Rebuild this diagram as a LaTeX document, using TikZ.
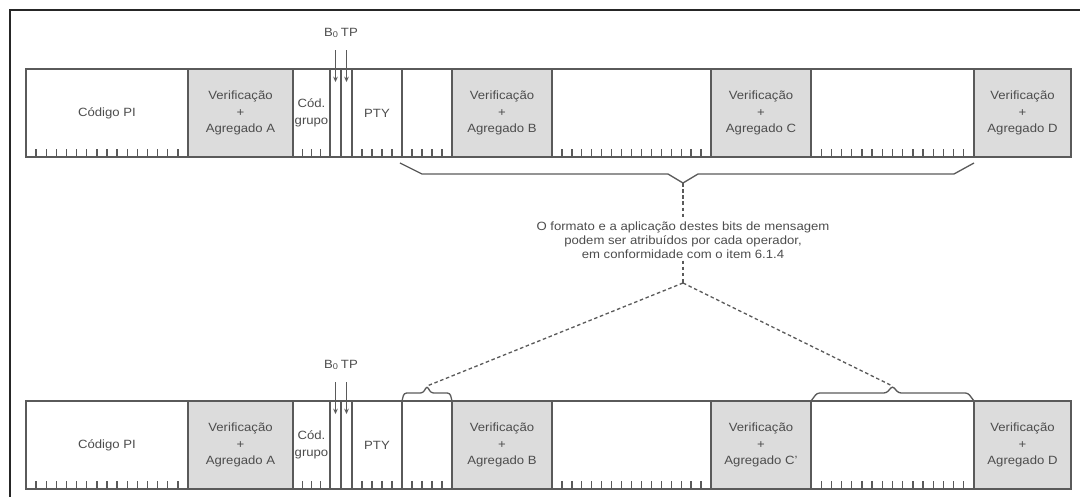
\documentclass[tikz,border=0pt]{standalone}
\usepackage{fontspec}
\setmainfont{Liberation Sans}[FakeStretch=1.1]
\usetikzlibrary{calc,arrows.meta}

\definecolor{linegray}{HTML}{5A5A5A}
\definecolor{boxgray}{HTML}{DCDCDC}
\definecolor{textgray}{HTML}{4D4D4D}

\tikzset{
  field/.style={draw=linegray, line width=0.75pt, inner sep=0pt, outer sep=0pt,
    minimum height=1.76cm, anchor=south west, align=center, text=textgray,
    font=\fontsize{6.8}{9.4}\selectfont},
  bittick/.style={draw=linegray, line width=0.75pt},
  brc/.style={draw=linegray, line width=0.75pt},
  lead/.style={draw=linegray, line width=0.75pt, dash pattern=on 2pt off 1.5pt},
  arr/.style={draw=linegray, line width=0.6pt, -{Stealth[length=3pt,width=2.6pt]}},
  note/.style={text=textgray, align=center, inner sep=1pt, font=\fontsize{6.8}{8}\selectfont},
}

% ticks on the bit boundaries of a field
\newcommand{\bitticks}[2]{%
  \pgfmathtruncatemacro\lastbit{#2-1}
  \foreach \i in {1,...,\lastbit}
    \draw[bittick] ($(#1.south west)!\i/#2!(#1.south east)$) -- ++(0,8);
}

% one group of blocks: #1 prefix, #2 bottom edge, #3 name of block C
\newcommand{\bitrow}[3]{%
  \foreach \nm/\xa/\xb/\fc/\lbl in {pi/26/188/white/{Código PI},
      va/188/293/boxgray/{Verificação\\+\\Agregado A},
      cg/293/330/white/{Cód.\\grupo}, b0/330/341/white/{}, tp/341/352/white/{},
      pty/352/402/white/{PTY}, m1/402/452/white/{},
      vb/452/552/boxgray/{Verificação\\+\\Agregado B}, m2/552/711/white/{},
      vc/711/811/boxgray/{Verificação\\+\\Agregado #3}, m3/811/974/white/{},
      vd/974/1071/boxgray/{Verificação\\+\\Agregado D}}
    \node[field, fill=\fc, minimum width={(\xb-\xa)*0.02cm}] (#1\nm) at (\xa,#2) {\lbl};
  \bitticks{#1pi}{16}
  \bitticks{#1cg}{4}
  \bitticks{#1pty}{5}
  \bitticks{#1m1}{5}
  \bitticks{#1m2}{16}
  \bitticks{#1m3}{16}
  \node[note] (#1bits) at ($(#1b0.north east)+(0,36)$) {B\textsubscript{0}\,TP};
  \draw[arr] ($(#1b0.north)+(0,19)$) -- ($(#1b0.north)+(0,-13)$);
  \draw[arr] ($(#1tp.north)+(0,19)$) -- ($(#1tp.north)+(0,-13)$);
}

\begin{document}
\begin{tikzpicture}[x=0.02cm, y=0.02cm]
\useasboundingbox (0,0) rectangle (1080,497);
\draw[black!85, line width=0.8pt] (10,0) -- (10,487) -- (1080,487);

\bitrow{t}{340}{C}
\bitrow{b}{8}{C'}

% brace below the upper group
\coordinate (tip) at ($(tm1.south west)!0.5!(tm3.south east)+(-5,-26)$);
\draw[brc] ($(tm1.south west)+(-2,-6)$) -- ($(tm1.south west)+(20,-17)$)
  -- ($(tip)+(-15,9)$) -- (tip) -- ($(tip)+(15,9)$)
  -- ($(tm3.south east)+(-20,-17)$) -- ($(tm3.south east)+(0,-6)$);

\node[note] (note) at ($(tip)+(0,-57)$) {O formato e a aplicação destes bits de mensagem\\podem ser atribuídos por cada operador,\\em conformidade com o item 6.1.4};
\coordinate (split) at ($(tip)+(0,-100)$);

% braces over the lower group
\coordinate (ltip) at ($(bm1.north)+(0,15)$);
\coordinate (rtip) at ($(bm3.north)+(0,15)$);
\draw[brc, rounded corners=1.5pt] (bm1.north west) -- ++(2,8) -- ($(ltip)+(-4,-7)$)
  -- (ltip) -- ($(ltip)+(4,-7)$) -- ($(bm1.north east)+(-2,8)$) -- (bm1.north east);
\draw[brc, rounded corners=1.5pt] (bm3.north west) -- ++(6,8) -- ($(rtip)+(-6,-7)$)
  -- (rtip) -- ($(rtip)+(6,-7)$) -- ($(bm3.north east)+(-6,8)$) -- (bm3.north east);

\draw[lead] (tip) -- (note);
\draw[lead] (note) -- (split);
\draw[lead] (split) -- (ltip);
\draw[lead] (split) -- (rtip);
\end{tikzpicture}
\end{document}
